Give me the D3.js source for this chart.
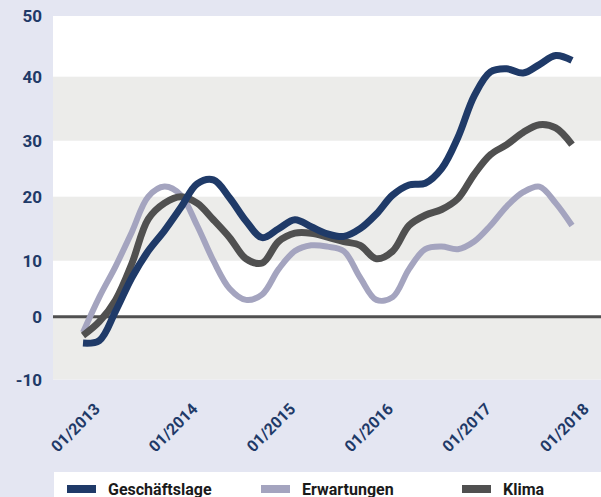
<!DOCTYPE html>
<html><head><meta charset="utf-8">
<script src="https://cdn.jsdelivr.net/npm/d3@7"></script>
<style>
html,body{margin:0;padding:0;background:#e4e6f2;}
svg{display:block;}
text{font-family:Roboto,"DejaVu Sans",sans-serif;font-weight:700;}
</style></head>
<body>
<svg id="chart" width="601" height="497"></svg>
<script>
// Months since 01/2013 (every second month)
const months = d3.range(0, 61, 2);
const geschaeftslage = [-4.2,-3.8,1,7,11.5,14.7,18.3,22.3,23,19.8,16.2,13.6,15,16.4,15.3,14.2,13.8,15,17.3,20.3,22.1,22.4,25,30.5,37,40.8,41.3,40.6,42,43.5,42.7];
const erwartungen = [-2.5,3.5,9,14.5,20,21.8,20.3,15.5,10,5,3,4,8.5,11.5,12.4,12.2,11.5,7,3,3.5,8.5,11.8,12.2,11.8,13,15.5,18.5,20.8,21.8,19,15.5];
const klima = [-3,-0.8,3,9.5,16.5,19,20,19,16.4,13.6,10.3,9.6,13,14.3,14.3,13.7,13,12.4,10.3,11.5,15.5,17.1,18,19.7,24,27.5,29.3,31.3,32.5,32,29.3];
const yTicks = [-10,0,10,20,30,40,50];
const xTickMonths = [0,12,24,36,48,60];
const xTickLabels = ["01/2013","01/2014","01/2015","01/2016","01/2017","01/2018"];
const seriesNames = ["Geschäftslage","Erwartungen","Klima"];
const seriesColors = ["#1f3a68","#a4a4bf","#505050"];

const svg = d3.select("#chart");
const plotL = 53, plotR = 601, plotT = 16, plotB = 379.5;

const x = d3.scaleLinear().domain([0,60]).range([83,572]);
const y = d3.scaleLinear().domain(yTicks).range([379.5,316.7,260.7,196.7,140.7,76.7,16]);

// background bands
svg.append("rect").attr("x",plotL).attr("y",plotT).attr("width",plotR-plotL).attr("height",plotB-plotT).attr("fill","#ffffff");
const bandPairs = [[-10,0],[10,20],[30,40]];
svg.selectAll("rect.band").data(bandPairs).enter().append("rect").attr("class","band")
  .attr("x",plotL).attr("width",plotR-plotL)
  .attr("y",d=>y(d[1])).attr("height",d=>y(d[0])-y(d[1]))
  .attr("fill","#ececea");

// zero line
svg.append("line").attr("x1",plotL).attr("x2",plotR).attr("y1",y(0)).attr("y2",y(0))
  .attr("stroke","#505050").attr("stroke-width",3);

// y labels
svg.selectAll("text.ylab").data(yTicks).enter().append("text").attr("class","ylab")
  .attr("x",42).attr("y",d=>y(d)).attr("dy","0.36em").attr("text-anchor","end")
  .attr("font-size",17).attr("fill","#1f3a68").text(d=>d);

// x labels
svg.selectAll("text.xlab").data(xTickMonths).enter().append("text").attr("class","xlab")
  .attr("text-anchor","end").attr("font-size",16).attr("fill","#1f3a68")
  .attr("transform",d=>`translate(${x(d)+10},${402}) rotate(-45)`)
  .attr("dy","0.7em")
  .text((d,i)=>xTickLabels[i]);

// lines
const seriesData = [geschaeftslage, erwartungen, klima];
const widths = [7,6,7];
const line = d3.line().x((d,i)=>x(months[i])).y(d=>y(d)).curve(d3.curveCatmullRom.alpha(0.5));
const order = [1,2,0];
order.forEach(k=>{
  svg.append("path").datum(seriesData[k]).attr("d",line)
    .attr("fill","none").attr("stroke",seriesColors[k]).attr("stroke-width",widths[k])
    .attr("stroke-linejoin","round");
});

// legend
svg.append("rect").attr("x",54).attr("y",472).attr("width",547).attr("height",25).attr("fill","#ffffff");
const legX = [67,261,462];
seriesNames.forEach((n,i)=>{
  svg.append("rect").attr("x",legX[i]).attr("y",485).attr("width",29).attr("height",8).attr("fill",seriesColors[i]);
  svg.append("text").attr("x",legX[i]+41).attr("y",494.5).attr("font-size",16).attr("fill","#1a1a1a").text(n);
});
</script>
</body></html>
